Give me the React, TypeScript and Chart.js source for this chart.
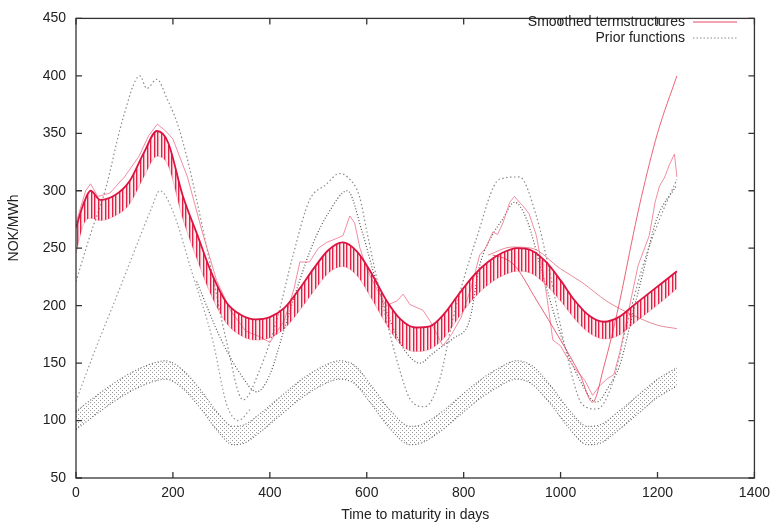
import { useEffect, useRef } from 'react';
import { Chart, registerables } from 'chart.js';

Chart.register(...registerables);

const FONT = "'Liberation Sans', Arial, Helvetica, sans-serif";

// X / Y axis ticks
const X_TICKS = [0, 200, 400, 600, 800, 1000, 1200, 1400];
const Y_TICKS = [50, 100, 150, 200, 250, 300, 350, 400, 450];

// Smoothed term structure band (upper smooth curve and lower edge of weekly comb)
const SMOOTH_DAYS = [0, 15, 30, 50, 80, 110, 140, 167, 190, 220, 250, 280, 310, 340, 370, 400, 430, 460, 490, 520, 550, 580, 610, 640, 670, 700, 730, 760, 790, 820, 850, 880, 910, 940, 970, 1000, 1030, 1060, 1090, 1120, 1150, 1180, 1210, 1240];
const SMOOTH_TOP = [268, 288, 300, 292, 296, 308, 333, 352, 342, 296, 262, 228, 203, 192, 188, 190, 198, 214, 232, 248, 255, 247, 228, 205, 188, 181, 182, 193, 210, 226, 238, 246, 250, 248, 238, 222, 204, 191, 186, 190, 200, 210, 220, 230];
const SMOOTH_LOW = [245, 270, 276, 274, 278, 288, 312, 330, 322, 276, 240, 208, 185, 174, 170, 172, 180, 195, 212, 228, 234, 226, 206, 184, 166, 160, 162, 172, 190, 206, 218, 226, 230, 228, 218, 204, 188, 176, 171, 174, 184, 194, 204, 215];

// Thin red term structure diving to ~115 and rising to 400
const A_DAYS = [860, 890, 909, 950, 1000, 1040, 1066, 1090, 1120, 1150, 1167, 1200, 1240];
const A_VALS = [244, 240, 233, 205, 170, 140, 116, 148, 200, 262, 295, 350, 400];

// Thin red term structure slowly declining to 180
const B_DAYS = [850, 900, 940, 1000, 1045, 1095, 1148, 1200, 1240];
const B_VALS = [244, 251, 250, 232, 220, 204, 192, 183, 180];

// Jagged pink term structure
const C_DAYS = [0, 20, 30, 45, 70, 100, 130, 150, 168, 185, 200, 230, 260, 290, 320, 350, 379, 400, 430, 450, 462, 482, 500, 517, 535, 551, 565, 575, 586, 600, 620, 640, 662, 675, 689, 705, 716, 730, 745, 757, 775, 795, 815, 833, 845, 860, 870, 881, 895, 905, 915, 922, 935, 950, 960, 971, 984, 1000, 1012, 1032, 1050, 1066, 1080, 1095, 1110, 1122, 1140, 1160, 1183, 1195, 1204, 1215, 1225, 1235, 1240];
const C_VALS = [272, 300, 306, 295, 298, 312, 330, 348, 358, 352, 345, 312, 265, 222, 195, 178, 173, 168, 187, 215, 238, 238, 250, 255, 258, 261, 278, 272, 250, 232, 215, 200, 204, 210, 201, 198, 196, 187, 175, 165, 175, 190, 215, 244, 250, 264, 262, 272, 290, 295, 290, 287, 280, 261, 238, 210, 170, 165, 156, 144, 135, 122, 130, 136, 140, 159, 195, 235, 261, 290, 304, 312, 323, 332, 312];

// Prior functions (dotted)
const D_DAYS = [0, 29, 60, 97, 132, 146, 167, 188, 208, 229, 250, 280, 310, 345, 379, 414, 448, 482, 515, 544, 560, 585, 600, 620, 641, 668, 689, 720, 750, 777, 826, 874, 915, 950, 977, 1012, 1045, 1075, 1105, 1136, 1170, 1204, 1240];
const D_VALS = [221, 261, 300, 363, 400, 389, 397, 380, 360, 329, 290, 230, 170, 118, 144, 187, 244, 292, 305, 315, 312, 295, 265, 225, 187, 144, 119, 112, 135, 187, 258, 310, 312, 278, 230, 159, 114, 110, 130, 182, 235, 275, 310];

const E_DAYS = [0, 40, 80, 120, 155, 173, 200, 240, 282, 311, 335, 360];
const E_VALS = [117, 162, 204, 247, 284, 300, 282, 228, 170, 114, 100, 110];

const F_DAYS = [249, 300, 340, 373, 400, 430, 460, 490, 520, 560, 590, 620, 650, 680, 710, 735, 757, 780, 812, 833, 860, 880, 905, 930, 963, 1000, 1040, 1074, 1100, 1122, 1150, 1169, 1198, 1240];
const F_VALS = [221, 170, 140, 125, 140, 180, 220, 255, 280, 300, 265, 220, 185, 160, 150, 158, 165, 172, 187, 235, 262, 275, 290, 275, 227, 175, 135, 116, 130, 148, 195, 227, 275, 305];

// Lower dotted prior band
const G_DAYS = [0, 40, 80, 120, 160, 185, 220, 260, 290, 324, 345, 380, 420, 460, 500, 544, 575, 610, 650, 689, 710, 750, 790, 830, 870, 909, 940, 980, 1020, 1055, 1080, 1120, 1160, 1200, 1240];
const G_TOP = [108, 121, 133, 143, 150, 152, 144, 125, 108, 95, 96, 106, 120, 134, 145, 152, 148, 130, 108, 95, 96, 106, 120, 134, 145, 152, 148, 130, 108, 95, 96, 108, 122, 136, 146];
const G_BOTTOM = [92, 105, 117, 127, 134, 136, 128, 109, 92, 79, 80, 90, 104, 118, 129, 136, 132, 114, 92, 79, 80, 90, 104, 118, 129, 136, 132, 114, 92, 79, 80, 92, 106, 120, 130];

const LEGEND_LABELS = ['Smoothed termstructures', 'Prior functions'];

function pts(days: number[], vals: number[]) {
  return days.map((d, i) => ({ x: d, y: vals[i] }));
}

function combPattern(): CanvasPattern | string {
  const c = document.createElement('canvas');
  c.width = 7;
  c.height = 4;
  const g = c.getContext('2d');
  if (!g) return 'rgba(228,24,64,0.5)';
  g.fillStyle = 'rgba(226,20,60,0.95)';
  g.fillRect(0, 0, 1, 4);
  g.fillRect(3, 0, 1, 4);
  g.fillStyle = 'rgba(232,40,80,0.45)';
  g.fillRect(1, 0, 1, 4);
  g.fillRect(4, 0, 1, 4);
  g.fillStyle = 'rgba(240,120,140,0.15)';
  g.fillRect(2, 0, 1, 4);
  g.fillRect(5, 0, 2, 4);
  return g.createPattern(c, 'repeat') || 'rgba(228,24,64,0.5)';
}

function dotPattern(): CanvasPattern | string {
  const c = document.createElement('canvas');
  c.width = 4;
  c.height = 4;
  const g = c.getContext('2d');
  if (!g) return 'rgba(80,80,80,0.25)';
  g.fillStyle = 'rgba(70,70,70,0.55)';
  g.fillRect(0, 0, 1, 1);
  g.fillRect(2, 2, 1, 1);
  return g.createPattern(c, 'repeat') || 'rgba(80,80,80,0.25)';
}

const framePlugin = {
  id: 'frame',
  afterDatasetsDraw(chart: any) {
    const { ctx, chartArea: a, scales } = chart;
    ctx.save();
    ctx.strokeStyle = '#333';
    ctx.lineWidth = 1.3;
    ctx.strokeRect(a.left, a.top, a.right - a.left, a.bottom - a.top);
    const L = 6;
    ctx.beginPath();
    X_TICKS.forEach((t) => {
      const x = scales.x.getPixelForValue(t);
      ctx.moveTo(x, a.bottom);
      ctx.lineTo(x, a.bottom - L);
      ctx.moveTo(x, a.top);
      ctx.lineTo(x, a.top + L);
    });
    Y_TICKS.forEach((t) => {
      const y = scales.y.getPixelForValue(t);
      ctx.moveTo(a.left, y);
      ctx.lineTo(a.left + L, y);
      ctx.moveTo(a.right, y);
      ctx.lineTo(a.right - L, y);
    });
    ctx.stroke();
    ctx.restore();
  },
  afterDraw(chart: any) {
    const { ctx } = chart;
    ctx.save();
    ctx.font = `14px ${FONT}`;
    ctx.fillStyle = '#222';
    ctx.textAlign = 'right';
    ctx.textBaseline = 'middle';
    ctx.fillText(LEGEND_LABELS[0], 685, 22);
    ctx.fillText(LEGEND_LABELS[1], 685, 38);
    ctx.strokeStyle = 'rgba(228,40,70,0.85)';
    ctx.lineWidth = 1;
    ctx.beginPath();
    ctx.moveTo(693, 22);
    ctx.lineTo(737, 22);
    ctx.stroke();
    ctx.strokeStyle = '#888';
    ctx.setLineDash([1.5, 2]);
    ctx.beginPath();
    ctx.moveTo(693, 38);
    ctx.lineTo(737, 38);
    ctx.stroke();
    ctx.setLineDash([]);
    // y axis title
    ctx.translate(14, 228);
    ctx.rotate(-Math.PI / 2);
    ctx.textAlign = 'center';
    ctx.fillText('NOK/MWh', 0, 0);
    ctx.restore();
  },
};

export default function App() {
  const ref = useRef<HTMLCanvasElement | null>(null);

  useEffect(() => {
    if (!ref.current) return;
    const comb = combPattern();
    const dots = dotPattern();
    const dotted = (color: string, dash: number[] = [1.5, 2.5], w = 1.2) => ({
      borderColor: color,
      borderWidth: w,
      borderDash: dash,
      fill: false,
      cubicInterpolationMode: 'monotone' as const,
    });
    const chart = new Chart(ref.current, {
      type: 'line',
      data: {
        datasets: [
          {
            label: 'smooth',
            data: pts(SMOOTH_DAYS, SMOOTH_TOP),
            borderColor: '#dc1442',
            borderWidth: 1.8,
            fill: false,
            cubicInterpolationMode: 'monotone',
          },
          {
            label: 'smoothLow',
            data: pts(SMOOTH_DAYS, SMOOTH_LOW),
            borderColor: 'rgba(228,40,80,0.3)',
            borderWidth: 0.8,
            backgroundColor: comb as any,
            fill: '-1',
            cubicInterpolationMode: 'monotone',
          },
          {
            label: 'A',
            data: pts(A_DAYS, A_VALS),
            borderColor: 'rgba(232,70,95,0.85)',
            borderWidth: 1,
            fill: false,
            cubicInterpolationMode: 'monotone',
          },
          {
            label: 'B',
            data: pts(B_DAYS, B_VALS),
            borderColor: 'rgba(225,120,135,0.85)',
            borderWidth: 1,
            fill: false,
            cubicInterpolationMode: 'monotone',
          },
          {
            label: 'C',
            data: pts(C_DAYS, C_VALS),
            borderColor: 'rgba(240,120,145,0.85)',
            borderWidth: 1,
            fill: false,
            tension: 0,
          },
          { label: 'D', data: pts(D_DAYS, D_VALS), ...dotted('#8a8a8a') },
          { label: 'E', data: pts(E_DAYS, E_VALS), ...dotted('#9a9a9a') },
          { label: 'F', data: pts(F_DAYS, F_VALS), ...dotted('#555', [1, 2], 1.2) },
          { label: 'Gtop', data: pts(G_DAYS, G_TOP), ...dotted('#666', [1, 2], 1.1) },
          {
            label: 'Gbottom',
            data: pts(G_DAYS, G_BOTTOM),
            borderColor: '#666',
            borderWidth: 1.1,
            borderDash: [1, 2],
            backgroundColor: dots as any,
            fill: '-1',
            cubicInterpolationMode: 'monotone',
          },
        ] as any,
      },
      options: {
        animation: false,
        responsive: false,
        devicePixelRatio: 1,
        layout: { padding: { left: 0, right: 22, top: 8, bottom: 0 } },
        elements: { point: { radius: 0 } },
        plugins: { legend: { display: false }, tooltip: { enabled: false } },
        scales: {
          x: {
            type: 'linear',
            min: 0,
            max: 1400,
            grid: { display: false, drawTicks: false },
            border: { display: false },
            ticks: {
              stepSize: 200,
              autoSkip: false,
              maxRotation: 0,
              padding: 7,
              color: '#222',
              font: { family: FONT, size: 14 },
              callback: (v: any) => String(v),
            },
            title: {
              display: true,
              text: 'Time to maturity in days',
              color: '#222',
              font: { family: FONT, size: 14 },
              padding: { top: 0, bottom: 3 },
            },
            afterFit: (s: any) => {
              s.height = 49;
            },
          },
          y: {
            min: 50,
            max: 450,
            grid: { display: false, drawTicks: false },
            border: { display: false },
            ticks: {
              stepSize: 50,
              padding: 10,
              color: '#222',
              font: { family: FONT, size: 14 },
              callback: (v: any) => String(v),
            },
            afterFit: (s: any) => {
              s.width = 76;
            },
          },
        },
      } as any,
      plugins: [framePlugin],
    });
    return () => chart.destroy();
  }, []);

  return (
    <div style={{ position: 'fixed', left: 0, top: 0, width: 777, height: 527, background: '#fff' }}>
      <canvas ref={ref} width={777} height={527} style={{ display: 'block' }} />
    </div>
  );
}
